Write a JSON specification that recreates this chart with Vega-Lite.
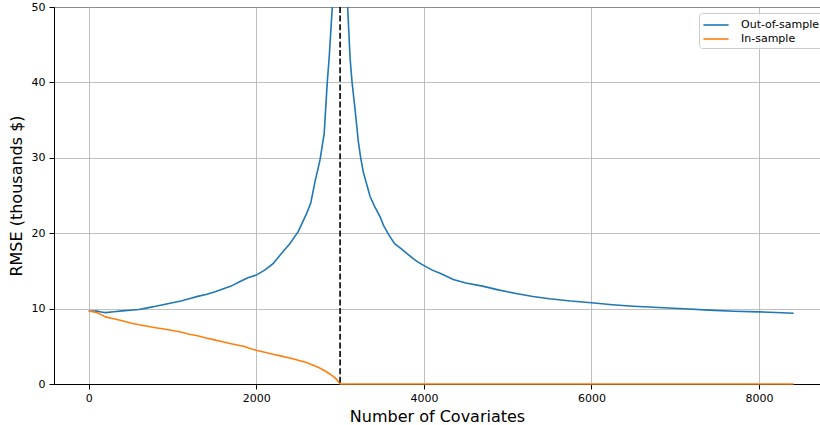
{
  "$schema": "https://vega.github.io/schema/vega-lite/v6.json",
  "width": 766,
  "height": 377,
  "autosize": "none",
  "padding": {"left": 54, "top": 7, "right": 0, "bottom": 41},
  "config": {
    "font": "DejaVu Sans",
    "view": {"stroke": "#000000", "strokeWidth": 1},
    "axis": {
      "grid": true,
      "gridColor": "#b0b0b0",
      "gridWidth": 0.8,
      "domainColor": "#000000",
      "domainWidth": 1,
      "tickColor": "#000000",
      "tickSize": 5,
      "tickWidth": 1,
      "labelFont": "DejaVu Sans",
      "labelFontSize": 11,
      "labelColor": "#000000",
      "titleFont": "DejaVu Sans",
      "titleFontSize": 16,
      "titleFontWeight": "normal",
      "titleColor": "#000000",
      "zindex": 0
    }
  },
  "datasets": {
    "outsample": [
      {"n": 0, "rmse": 9.65, "series": "Out-of-sample"},
      {"n": 50, "rmse": 9.68, "series": "Out-of-sample"},
      {"n": 100, "rmse": 9.66, "series": "Out-of-sample"},
      {"n": 150, "rmse": 9.55, "series": "Out-of-sample"},
      {"n": 200, "rmse": 9.47, "series": "Out-of-sample"},
      {"n": 300, "rmse": 9.58, "series": "Out-of-sample"},
      {"n": 400, "rmse": 9.7, "series": "Out-of-sample"},
      {"n": 500, "rmse": 9.78, "series": "Out-of-sample"},
      {"n": 600, "rmse": 9.88, "series": "Out-of-sample"},
      {"n": 700, "rmse": 10.1, "series": "Out-of-sample"},
      {"n": 800, "rmse": 10.3, "series": "Out-of-sample"},
      {"n": 900, "rmse": 10.55, "series": "Out-of-sample"},
      {"n": 1000, "rmse": 10.77, "series": "Out-of-sample"},
      {"n": 1100, "rmse": 11.0, "series": "Out-of-sample"},
      {"n": 1200, "rmse": 11.3, "series": "Out-of-sample"},
      {"n": 1300, "rmse": 11.62, "series": "Out-of-sample"},
      {"n": 1400, "rmse": 11.87, "series": "Out-of-sample"},
      {"n": 1500, "rmse": 12.2, "series": "Out-of-sample"},
      {"n": 1600, "rmse": 12.6, "series": "Out-of-sample"},
      {"n": 1700, "rmse": 12.98, "series": "Out-of-sample"},
      {"n": 1800, "rmse": 13.55, "series": "Out-of-sample"},
      {"n": 1900, "rmse": 14.1, "series": "Out-of-sample"},
      {"n": 2000, "rmse": 14.44, "series": "Out-of-sample"},
      {"n": 2100, "rmse": 15.1, "series": "Out-of-sample"},
      {"n": 2200, "rmse": 15.95, "series": "Out-of-sample"},
      {"n": 2300, "rmse": 17.3, "series": "Out-of-sample"},
      {"n": 2400, "rmse": 18.6, "series": "Out-of-sample"},
      {"n": 2500, "rmse": 20.2, "series": "Out-of-sample"},
      {"n": 2600, "rmse": 22.6, "series": "Out-of-sample"},
      {"n": 2650, "rmse": 24.0, "series": "Out-of-sample"},
      {"n": 2700, "rmse": 26.8, "series": "Out-of-sample"},
      {"n": 2760, "rmse": 29.7, "series": "Out-of-sample"},
      {"n": 2810, "rmse": 33.2, "series": "Out-of-sample"},
      {"n": 2847, "rmse": 40.0, "series": "Out-of-sample"},
      {"n": 2871, "rmse": 43.5, "series": "Out-of-sample"},
      {"n": 2907, "rmse": 50.0, "series": "Out-of-sample"},
      {"n": 2950, "rmse": 60, "series": "Out-of-sample"},
      {"n": 3050, "rmse": 59, "series": "Out-of-sample"},
      {"n": 3090, "rmse": 50, "series": "Out-of-sample"},
      {"n": 3120, "rmse": 43.1, "series": "Out-of-sample"},
      {"n": 3143, "rmse": 40, "series": "Out-of-sample"},
      {"n": 3178, "rmse": 36.5, "series": "Out-of-sample"},
      {"n": 3217, "rmse": 32.2, "series": "Out-of-sample"},
      {"n": 3246, "rmse": 30.0, "series": "Out-of-sample"},
      {"n": 3277, "rmse": 28.1, "series": "Out-of-sample"},
      {"n": 3320, "rmse": 26.4, "series": "Out-of-sample"},
      {"n": 3357, "rmse": 24.9, "series": "Out-of-sample"},
      {"n": 3410, "rmse": 23.6, "series": "Out-of-sample"},
      {"n": 3476, "rmse": 22.2, "series": "Out-of-sample"},
      {"n": 3520, "rmse": 21.0, "series": "Out-of-sample"},
      {"n": 3580, "rmse": 19.8, "series": "Out-of-sample"},
      {"n": 3650, "rmse": 18.6, "series": "Out-of-sample"},
      {"n": 3735, "rmse": 17.9, "series": "Out-of-sample"},
      {"n": 3810, "rmse": 17.2, "series": "Out-of-sample"},
      {"n": 3900, "rmse": 16.4, "series": "Out-of-sample"},
      {"n": 3975, "rmse": 15.86, "series": "Out-of-sample"},
      {"n": 4100, "rmse": 15.1, "series": "Out-of-sample"},
      {"n": 4200, "rmse": 14.65, "series": "Out-of-sample"},
      {"n": 4350, "rmse": 13.87, "series": "Out-of-sample"},
      {"n": 4500, "rmse": 13.4, "series": "Out-of-sample"},
      {"n": 4700, "rmse": 12.98, "series": "Out-of-sample"},
      {"n": 4900, "rmse": 12.45, "series": "Out-of-sample"},
      {"n": 5100, "rmse": 12.0, "series": "Out-of-sample"},
      {"n": 5300, "rmse": 11.6, "series": "Out-of-sample"},
      {"n": 5500, "rmse": 11.3, "series": "Out-of-sample"},
      {"n": 5750, "rmse": 11.0, "series": "Out-of-sample"},
      {"n": 6000, "rmse": 10.77, "series": "Out-of-sample"},
      {"n": 6250, "rmse": 10.52, "series": "Out-of-sample"},
      {"n": 6500, "rmse": 10.32, "series": "Out-of-sample"},
      {"n": 6800, "rmse": 10.15, "series": "Out-of-sample"},
      {"n": 7100, "rmse": 9.97, "series": "Out-of-sample"},
      {"n": 7400, "rmse": 9.8, "series": "Out-of-sample"},
      {"n": 7700, "rmse": 9.65, "series": "Out-of-sample"},
      {"n": 8000, "rmse": 9.57, "series": "Out-of-sample"},
      {"n": 8200, "rmse": 9.48, "series": "Out-of-sample"},
      {"n": 8413, "rmse": 9.39, "series": "Out-of-sample"}
    ],
    "insample": [
      {"n": 0, "rmse": 9.65, "series": "In-sample"},
      {"n": 50, "rmse": 9.6, "series": "In-sample"},
      {"n": 100, "rmse": 9.45, "series": "In-sample"},
      {"n": 150, "rmse": 9.2, "series": "In-sample"},
      {"n": 200, "rmse": 8.9, "series": "In-sample"},
      {"n": 300, "rmse": 8.65, "series": "In-sample"},
      {"n": 400, "rmse": 8.4, "series": "In-sample"},
      {"n": 500, "rmse": 8.1, "series": "In-sample"},
      {"n": 600, "rmse": 7.85, "series": "In-sample"},
      {"n": 700, "rmse": 7.65, "series": "In-sample"},
      {"n": 800, "rmse": 7.45, "series": "In-sample"},
      {"n": 900, "rmse": 7.3, "series": "In-sample"},
      {"n": 1000, "rmse": 7.1, "series": "In-sample"},
      {"n": 1100, "rmse": 6.9, "series": "In-sample"},
      {"n": 1200, "rmse": 6.6, "series": "In-sample"},
      {"n": 1300, "rmse": 6.4, "series": "In-sample"},
      {"n": 1400, "rmse": 6.1, "series": "In-sample"},
      {"n": 1500, "rmse": 5.85, "series": "In-sample"},
      {"n": 1600, "rmse": 5.6, "series": "In-sample"},
      {"n": 1700, "rmse": 5.35, "series": "In-sample"},
      {"n": 1800, "rmse": 5.1, "series": "In-sample"},
      {"n": 1850, "rmse": 5.0, "series": "In-sample"},
      {"n": 1900, "rmse": 4.8, "series": "In-sample"},
      {"n": 2000, "rmse": 4.47, "series": "In-sample"},
      {"n": 2100, "rmse": 4.2, "series": "In-sample"},
      {"n": 2200, "rmse": 3.95, "series": "In-sample"},
      {"n": 2300, "rmse": 3.7, "series": "In-sample"},
      {"n": 2400, "rmse": 3.45, "series": "In-sample"},
      {"n": 2500, "rmse": 3.15, "series": "In-sample"},
      {"n": 2600, "rmse": 2.85, "series": "In-sample"},
      {"n": 2700, "rmse": 2.4, "series": "In-sample"},
      {"n": 2750, "rmse": 2.15, "series": "In-sample"},
      {"n": 2800, "rmse": 1.85, "series": "In-sample"},
      {"n": 2860, "rmse": 1.46, "series": "In-sample"},
      {"n": 2900, "rmse": 1.15, "series": "In-sample"},
      {"n": 2940, "rmse": 0.8, "series": "In-sample"},
      {"n": 2970, "rmse": 0.45, "series": "In-sample"},
      {"n": 3000, "rmse": 0, "series": "In-sample"},
      {"n": 8413, "rmse": 0, "series": "In-sample"}
    ],
    "threshold": [{"n": 3000}]
  },
  "encoding": {
    "x": {
      "field": "n", "type": "quantitative",
      "scale": {"domain": [-414, 8727], "nice": false, "zero": false},
      "axis": {"values": [0, 2000, 4000, 6000, 8000], "format": "d", "title": "Number of Covariates", "labelPadding": 3, "titlePadding": 5}
    }
  },
  "layer": [
    {
      "data": {"name": "outsample"},
      "mark": {"type": "line", "clip": true, "strokeWidth": 1.6},
      "encoding": {
        "y": {
          "field": "rmse", "type": "quantitative",
          "scale": {"domain": [0, 50], "nice": false},
          "axis": {"values": [0, 10, 20, 30, 40, 50], "format": "d", "title": "RMSE (thousands $)", "labelPadding": 4, "titlePadding": 7}
        },
        "color": {
          "field": "series", "type": "nominal",
          "scale": {"domain": ["Out-of-sample", "In-sample"], "range": ["#1f77b4", "#ff7f0e"]},
          "legend": {
            "title": null,
            "orient": "none",
            "legendX": 645,
            "legendY": 6,
            "strokeColor": "#cccccc",
            "fillColor": "rgba(255,255,255,0.8)",
            "cornerRadius": 3,
            "padding": 4,
            "rowPadding": 1,
            "symbolType": "M-1.8,0H1.8",
            "symbolSize": 196,
            "symbolOffset": 5,
            "symbolStrokeWidth": 1.6,
            "labelOffset": 17,
            "labelFont": "DejaVu Sans",
            "labelFontSize": 11,
            "labelColor": "#000000",
            "zindex": 1
          }
        }
      }
    },
    {
      "data": {"name": "insample"},
      "mark": {"type": "line", "strokeWidth": 1.6},
      "encoding": {
        "y": {"field": "rmse", "type": "quantitative"},
        "color": {"field": "series", "type": "nominal"}
      }
    },
    {
      "data": {"name": "threshold"},
      "mark": {"type": "rule", "color": "#000000", "strokeWidth": 1.6, "strokeDash": [6, 2.6]},
      "encoding": {
        "x": {"field": "n", "type": "quantitative"}
      }
    }
  ]
}
